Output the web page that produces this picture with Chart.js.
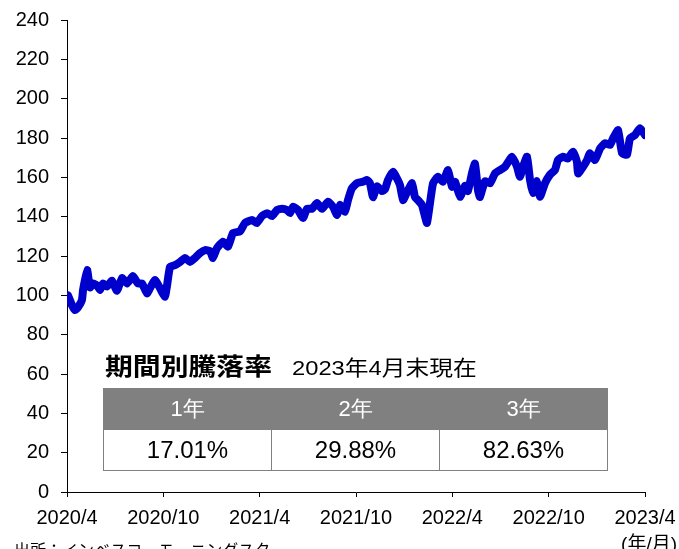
<!DOCTYPE html>
<html>
<head>
<meta charset="utf-8">
<script src="https://cdn.jsdelivr.net/npm/chart.js@4/dist/chart.umd.min.js"></script>
<style>
  body { margin: 0; background: #fff; font-family: "Liberation Sans", Arial, sans-serif; }
  #wrap { position: relative; width: 679px; height: 549px; overflow: hidden; }
  #title { position: absolute; left: 105px; top: 347px; font-size: 24px; font-weight: bold;
           font-family: "Noto Sans CJK JP", sans-serif; transform: scaleX(1.16); transform-origin: left; white-space: nowrap; }
  #asof { position: absolute; left: 292px; top: 351px; font-size: 21px; white-space: nowrap;
          font-family: "Liberation Sans", "Noto Sans CJK JP", sans-serif; transform: scaleX(1.13); transform-origin: left; }
  #perf { position: absolute; left: 103px; top: 388px; border-collapse: collapse; }
  #perf td { width: 167px; text-align: center; border: 1.5px solid #808080; padding: 0; }
  #perf tr.head td { background: #808080; color: #fff; height: 40px; font-size: 22px; }
  #perf tr.vals td { background: #fff; color: #000; height: 40px; font-size: 24px; }
  #src { position: absolute; left: 14px; top: 537px; font-size: 16px; white-space: nowrap;
         font-family: "Noto Sans CJK JP", sans-serif; }
  #unit { position: absolute; right: 2px; top: 528px; font-size: 19px; white-space: nowrap;
          font-family: "Liberation Sans", "Noto Sans CJK JP", sans-serif; }
</style>
</head>
<body>
<div id="wrap">
  <canvas id="navChart" width="679" height="549"></canvas>
  <div id="title">期間別騰落率</div>
  <div id="asof">2023年4月末現在</div>
  <table id="perf"><tbody></tbody></table>
  <div id="src">出所：インベスコ、モーニングスター</div>
  <div id="unit">(年/月)</div>
</div>
<script>
// months elapsed since 2020/4
var months = [0.06, 0.31, 0.50, 0.69, 0.93, 1.00, 1.25, 1.43, 1.62, 1.87, 2.06, 2.24, 2.49, 2.80,
  3.11, 3.43, 3.74, 4.11, 4.42, 4.67, 4.98, 5.17, 5.48, 5.79, 6.10, 6.23, 6.42, 6.73, 7.04, 7.35,
  7.66, 7.97, 8.28, 8.60, 8.91, 9.09, 9.34, 9.72, 10.03, 10.34, 10.77, 11.09, 11.52, 11.83, 12.14,
  12.46, 12.77, 13.08, 13.39, 13.70, 13.89, 14.08, 14.39, 14.70, 14.95, 15.26, 15.57, 15.88, 16.26,
  16.57, 16.82, 17.00, 17.31, 17.50, 17.75, 18.06, 18.44, 18.69, 18.87, 19.06, 19.31, 19.62, 19.81,
  19.99, 20.30, 20.55, 20.74, 20.93, 21.18, 21.49, 21.67, 21.86, 22.11, 22.30, 22.42, 22.61, 22.80,
  23.11, 23.42, 23.73, 23.98, 24.17, 24.48, 24.79, 24.97, 25.22, 25.41, 25.60, 25.72, 26.03, 26.35,
  26.66, 26.97, 27.28, 27.72, 28.03, 28.21, 28.40, 28.65, 28.84, 29.02, 29.27, 29.46, 29.77, 30.08,
  30.39, 30.58, 30.89, 31.20, 31.52, 31.76, 31.83, 32.08, 32.39, 32.57, 32.89, 33.20, 33.51, 33.82,
  34.01, 34.32, 34.57, 34.88, 35.06, 35.37, 35.69, 36.00];
var values = [100, 95, 92.5, 94, 97.6, 102.7, 112.9, 104, 106, 105, 102.7, 106, 104.5, 107.4,
  102.3, 108.8, 106, 109.8, 106, 106, 101, 103.6, 107.8, 103.6, 99.3, 105, 114.5, 115.4, 117, 119,
  117, 119, 121.5, 123, 122.5, 119, 124, 127.3, 124.8, 131.7, 132.5, 136.8, 138.3, 136.8, 140.3,
  141.8, 140.3, 143.4, 144, 143.4, 141.8, 145, 143.4, 139.3, 144, 144, 146.9, 144, 147.6,
  145, 140.8, 146, 142.5, 148.4, 154.5, 157, 157.8, 158.6, 157, 150, 155.4, 153, 154,
  158.6, 162.8, 159.5, 156, 148.4, 152.5, 157, 150, 148.4, 145.9, 140, 136.8, 147, 157,
  160.3, 157.8, 163.7, 155.2, 157.7, 150.1, 155.7, 153, 162, 167, 153.4, 150, 158, 157,
  162, 163.7, 165.4, 170.5, 165.4, 160.3, 165.4, 170.5, 158.6, 152, 158, 150.1, 157, 161.3,
  163.7, 168.8, 170.5, 169.6, 173, 168, 162, 164.6, 168.8, 172.2, 168.8, 174.7, 177.3, 176.5,
  179.8, 184, 172.3, 171.5, 179.8, 181.5, 184.9, 181.5];
var xTickLabels = ['2020/4', '2020/10', '2021/4', '2021/10', '2022/4', '2022/10', '2023/4'];
var periods = ['1年', '2年', '3年'];
var returns = ['17.01%', '29.88%', '82.63%'];

// table
var tbody = document.querySelector('#perf tbody');
var headRow = document.createElement('tr');
headRow.className = 'head';
var valRow = document.createElement('tr');
valRow.className = 'vals';
periods.forEach(function(p, i) {
  var th = document.createElement('td');
  th.textContent = p;
  headRow.appendChild(th);
  var td = document.createElement('td');
  td.textContent = returns[i];
  valRow.appendChild(td);
});
tbody.appendChild(headRow);
tbody.appendChild(valRow);

var points = months.map(function(m, i) { return { x: m, y: values[i] }; });

var ctx = document.getElementById('navChart').getContext('2d');
var navChart = new Chart(ctx, {
  type: 'line',
  data: {
    datasets: [{
      data: points,
      borderColor: '#0000cd',
      borderWidth: 8,
      borderJoinStyle: 'round',
      borderCapStyle: 'round',
      pointRadius: 0,
      tension: 0.15,
      fill: false
    }]
  },
  options: {
    responsive: false,
    animation: false,
    events: [],
    layout: { padding: { left: 0, right: 34, top: 20, bottom: 0 } },
    plugins: { legend: { display: false }, tooltip: { enabled: false } },
    scales: {
      x: {
        type: 'linear',
        min: 0,
        max: 36,
        afterFit: function(scale) {
          scale.height = 57;
          scale.paddingLeft = 0;
          scale.paddingRight = 0;
        },
        afterBuildTicks: function(scale) {
          scale.ticks = xTickLabels.map(function(l, i) { return { value: i * 6 }; });
        },
        border: { display: true, color: '#000', width: 1 },
        grid: { display: true, drawOnChartArea: false, drawTicks: true, tickLength: 5, color: '#000' },
        ticks: {
          autoSkip: false,
          maxRotation: 0,
          padding: 9,
          color: '#000',
          font: { family: 'Liberation Sans', size: 20 },
          callback: function(v) { return xTickLabels[Math.round(v / 6)]; }
        }
      },
      y: {
        min: 0,
        max: 240,
        afterFit: function(scale) {
          scale.width = 67;
          scale.paddingTop = 0;
          scale.paddingBottom = 0;
        },
        border: { display: true, color: '#000', width: 1 },
        grid: { display: true, drawOnChartArea: false, drawTicks: true, tickLength: 6, color: '#000' },
        ticks: {
          stepSize: 20,
          padding: 12,
          color: '#000',
          font: { family: 'Liberation Sans', size: 20 }
        }
      }
    }
  }
});
</script>
</body>
</html>
